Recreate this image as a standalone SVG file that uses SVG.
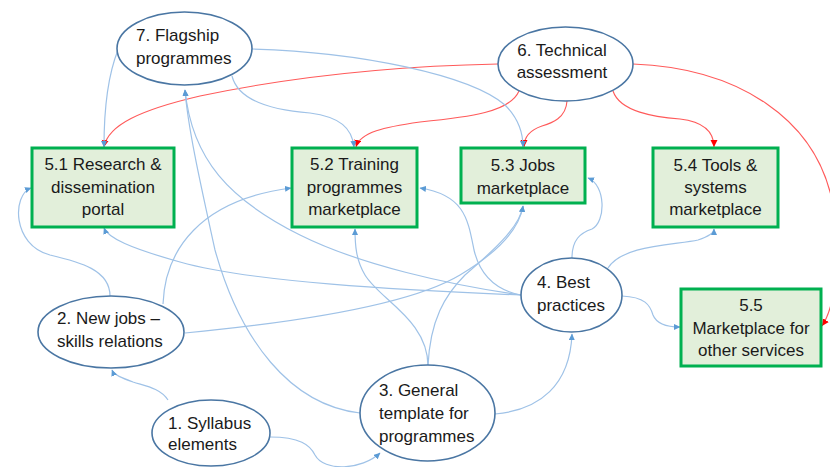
<svg xmlns="http://www.w3.org/2000/svg" width="830" height="467" viewBox="0 0 830 467">
<style>
.bl{fill:none;stroke:#9fc2e7;stroke-width:1.2;marker-end:url(#ab)}
.rd{fill:none;stroke:#ff5a5a;stroke-width:1.1;marker-end:url(#ar)}
.el{fill:#fff;stroke:#4a76a3;stroke-width:1.6}
.bx{fill:#e2efda;stroke:#00b050;stroke-width:3}
text{font-family:"Liberation Sans",Arial,sans-serif;font-size:17px;fill:#1a1a1a}
.m{text-anchor:middle}
</style>
<defs>
<marker id="ab" markerWidth="7" markerHeight="7" refX="6" refY="3" orient="auto" markerUnits="userSpaceOnUse"><path d="M0,0 L6.5,3 L0,6 z" fill="#5b9bd5"/></marker>
<marker id="ar" markerWidth="8" markerHeight="8" refX="7" refY="3.5" orient="auto" markerUnits="userSpaceOnUse"><path d="M0,0 L7,3.5 L0,7 z" fill="#ff0000"/></marker>
</defs>
<rect width="830" height="467" fill="#fff"/>
<g id="connectors">
<path class="rd" d="M498,64 C400,66 300,75 200,96 C140,110 108,125 104,147"/>
<path class="rd" d="M519,91 C510,112 470,117 420,122 C385,127 360,132 356,147"/>
<path class="rd" d="M567,101 C566,118 552,123 542,126 C530,130 524,137 524,147"/>
<path class="rd" d="M613,91 C620,112 655,117 680,119 C705,122 714,133 714,147"/>
<path class="rd" d="M633,64 C740,68 815,120 832,200 C842,250 836,305 822,326"/>
<path class="bl" d="M118,50 C108,75 104,110 104,147"/>
<path class="bl" d="M232,76 C238,100 270,110 310,113 C340,117 352,128 354,147"/>
<path class="bl" d="M252,49 C360,52 470,75 505,105 C518,118 523,132 523,147"/>
<path class="bl" d="M360,413 C290,405 240,340 215,250 C203,195 188,130 185,90"/>
<path class="bl" d="M521,295 C450,285 360,265 300,235 C230,200 192,160 185,90"/>
<path class="bl" d="M521,295 C400,290 250,282 180,262 C130,248 108,238 104,228"/>
<path class="bl" d="M521,295 C495,290 480,275 474,250 C468,220 465,195 420,188"/>
<path class="bl" d="M572,258 C572,240 580,233 592,229 C606,222 606,185 588,178"/>
<path class="bl" d="M608,268 C622,245 675,245 698,240 C710,236 714,232 714,229"/>
<path class="bl" d="M622,296 C645,297 650,305 653,315 C657,325 668,327 680,327"/>
<path class="bl" d="M428,366 C428,320 380,300 365,275 C356,260 355,245 355,229"/>
<path class="bl" d="M428,366 C430,320 445,295 465,275 C500,245 520,225 523,206"/>
<path class="bl" d="M110,296 C110,270 80,262 50,255 C12,245 12,195 31,188"/>
<path class="bl" d="M163,304 C165,250 200,200 291,188"/>
<path class="bl" d="M185,333 C300,322 410,305 460,275 C505,248 520,225 523,206"/>
<path class="bl" d="M168,400 C160,388 145,386 133,382 C122,378 114,375 112,370"/>
<path class="bl" d="M270,437 C300,437 310,445 315,455 C324,472 362,470 380,453"/>
<path class="bl" d="M495,414 C540,410 570,385 572,334"/>
</g>
<g id="n7"><ellipse class="el" cx="184.5" cy="48.5" rx="67.5" ry="36.5"/><text x="136" y="41">7. Flagship</text><text x="136" y="64">programmes</text></g>
<g id="n6"><ellipse class="el" cx="565.5" cy="64" rx="67.5" ry="37"/><text class="m" x="562" y="56">6. Technical</text><text class="m" x="562" y="78">assessment</text></g>
<g id="n51"><rect class="bx" x="32" y="148" width="142" height="79"/><text class="m" x="103" y="170">5.1 Research &amp;</text><text class="m" x="103" y="193">dissemination</text><text class="m" x="103" y="215">portal</text></g>
<g id="n52"><rect class="bx" x="292" y="148" width="125" height="79"/><text class="m" x="354.5" y="170">5.2 Training</text><text class="m" x="354.5" y="193">programmes</text><text class="m" x="354.5" y="215">marketplace</text></g>
<g id="n53"><rect class="bx" x="461" y="148" width="124" height="55"/><text class="m" x="523" y="171">5.3 Jobs</text><text class="m" x="523" y="194">marketplace</text></g>
<g id="n54"><rect class="bx" x="653" y="148" width="125" height="79"/><text class="m" x="715.5" y="171">5.4 Tools &amp;</text><text class="m" x="715.5" y="193">systems</text><text class="m" x="715.5" y="215">marketplace</text></g>
<g id="n55"><rect class="bx" x="681" y="289" width="140" height="77"/><text class="m" x="751" y="311">5.5</text><text class="m" x="751" y="334">Marketplace for</text><text class="m" x="751" y="356">other services</text></g>
<g id="n2"><ellipse class="el" cx="111" cy="332" rx="73" ry="36"/><text x="57" y="324">2. New jobs –</text><text x="57" y="347">skills relations</text></g>
<g id="n1"><ellipse class="el" cx="211" cy="433" rx="59" ry="33"/><text x="168" y="429">1. Syllabus</text><text x="168" y="450">elements</text></g>
<g id="n3"><ellipse class="el" cx="427.5" cy="413" rx="67.5" ry="48"/><text x="379" y="396">3. General</text><text x="379" y="419">template for</text><text x="379" y="442">programmes</text></g>
<g id="n4"><ellipse class="el" cx="571.5" cy="295" rx="50.5" ry="37"/><text x="537" y="288">4. Best</text><text x="537" y="311">practices</text></g>
</svg>
